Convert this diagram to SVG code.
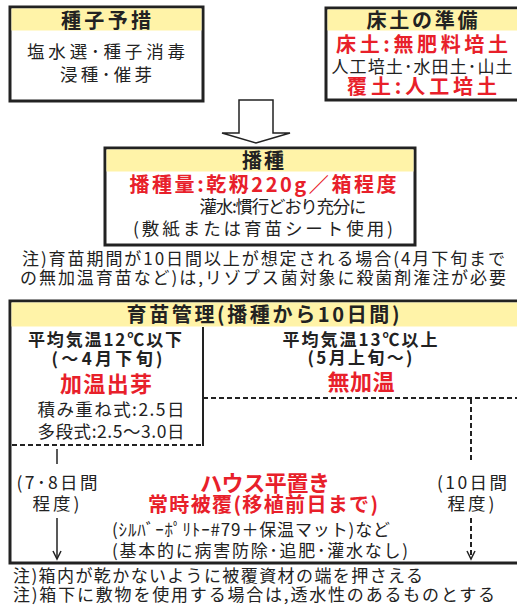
<svg xmlns="http://www.w3.org/2000/svg" width="517" height="607" viewBox="0 0 517 607">
<style>
.t{font-family:"Noto Sans CJK JP","Noto Sans CJK SC",sans-serif;fill:#222}
.b{font-weight:bold}
.r{fill:#e8202a;font-weight:bold}
.box{fill:#fff;stroke:#222;stroke-width:3}
.hd{fill:#fff3a8}
.dash{stroke:#222;stroke-width:2;stroke-dasharray:5 3;fill:none}
.ln{stroke:#222;stroke-width:1.5;fill:none}
</style>
<rect width="517" height="607" fill="#fff"/>
<g id="seed-prep">
<rect class="box" x="10" y="7" width="193" height="94"/>
<rect class="hd" x="11.5" y="8.5" width="190" height="22"/>
<text class="t b" x="106" y="28" font-size="20" text-anchor="middle" textLength="90">種子予措</text>
<text class="t" x="106" y="58" font-size="17.5" text-anchor="middle" textLength="158">塩水選･種子消毒</text>
<text class="t" x="106" y="81" font-size="17.5" text-anchor="middle" textLength="92">浸種･催芽</text>
</g>
<g id="soil-prep">
<rect class="box" x="326" y="8" width="200" height="92"/>
<rect class="hd" x="327.5" y="9.5" width="197" height="21"/>
<text class="t b" x="422" y="28" font-size="20" text-anchor="middle" textLength="111">床土の準備</text>
<text class="t r" x="422" y="52" font-size="20" text-anchor="middle" textLength="172">床土:無肥料培土</text>
<text class="t" x="422" y="73" font-size="17" text-anchor="middle" textLength="181">人工培土･水田土･山土</text>
<text class="t r" x="422" y="94" font-size="20" text-anchor="middle" textLength="150">覆土:人工培土</text>
</g>
<g id="sowing">
<rect class="box" x="105" y="148" width="310" height="97"/>
<rect class="hd" x="106.5" y="149.5" width="307" height="22"/>
<text class="t b" x="263" y="168" font-size="20" text-anchor="middle" textLength="42">播種</text>
<text class="t r" x="263" y="192" font-size="20" text-anchor="middle" textLength="267">播種量:乾籾220g／箱程度</text>
<text class="t" x="283" y="213" font-size="17.5" text-anchor="middle" textLength="167">灌水:慣行どおり充分に</text>
<text class="t" x="263" y="235" font-size="17.5" text-anchor="middle" textLength="260">(敷紙または育苗シート使用)</text>
</g>
<g id="note1">
<text class="t" x="22" y="265" font-size="17" textLength="483">注)育苗期間が10日間以上が想定される場合(4月下旬まで</text>
<text class="t" x="20" y="284" font-size="17" textLength="486">の無加温育苗など)は,リゾプス菌対象に殺菌剤潅注が必要</text>
</g>
<g id="nursery">
<rect class="box" x="10" y="301" width="516" height="262"/>
<rect class="hd" x="11.5" y="302.5" width="513" height="24"/>
<text class="t b" x="263" y="322" font-size="20" text-anchor="middle" textLength="273">育苗管理(播種から10日間)</text>
<line x1="203" y1="327" x2="203" y2="446" stroke="#222" stroke-width="2"/>
<line class="dash" x1="12" y1="445" x2="203" y2="445"/>
<line class="dash" x1="203" y1="398" x2="517" y2="398"/>
</g>
<g id="connectors">
<path d="M239,100 L273,100 L273,133 L290,133 L256,143 L222,133 L239,133 Z" fill="#fff" stroke="#222" stroke-width="1.5"/>
<line class="ln" x1="57" y1="449" x2="57" y2="464"/>
<line class="ln" x1="57" y1="518" x2="57" y2="558"/>
<path class="ln" d="M53,551 L57,559 L61,551"/>
<line class="dash" x1="471" y1="399" x2="471" y2="462"/>
<line class="dash" x1="471" y1="518" x2="471" y2="555"/>
<path class="ln" d="M467,551 L471,559 L475,551"/>
</g>
<g id="heated">
<text class="t b" x="105" y="346" font-size="17" text-anchor="middle" textLength="154">平均気温12℃以下</text>
<text class="t b" x="107" y="365" font-size="17" text-anchor="middle" textLength="111">(～4月下旬)</text>
<text class="t r" x="106" y="392" font-size="22" text-anchor="middle" textLength="92">加温出芽</text>
<text class="t" x="111" y="416" font-size="17.5" text-anchor="middle" textLength="147">積み重ね式:2.5日</text>
<text class="t" x="111" y="438" font-size="17.5" text-anchor="middle" textLength="147">多段式:2.5～3.0日</text>
</g>
<g id="unheated">
<text class="t b" x="360" y="346" font-size="17" text-anchor="middle" textLength="155">平均気温13℃以上</text>
<text class="t b" x="360" y="364" font-size="17" text-anchor="middle" textLength="105">(5月上旬～)</text>
<text class="t r" x="361" y="390" font-size="22" text-anchor="middle" textLength="67">無加温</text>
</g>
<g id="left-period">
<text class="t" x="57" y="489" font-size="17.5" text-anchor="middle" textLength="81">(7･8日間</text>
<text class="t" x="56" y="510" font-size="17.5" text-anchor="middle" textLength="47">程度)</text>
</g>
<g id="right-period">
<text class="t" x="472" y="489" font-size="17.5" text-anchor="middle" textLength="70">(10日間</text>
<text class="t" x="471" y="510" font-size="17.5" text-anchor="middle" textLength="47">程度)</text>
</g>
<g id="house">
<text class="t r" x="265" y="491" font-size="22" text-anchor="middle" textLength="130">ハウス平置き</text>
<text class="t r" x="263" y="512" font-size="20" text-anchor="middle" textLength="230">常時被覆(移植前日まで)</text>
<text class="t" x="112" y="536" font-size="17" textLength="278">(ｼﾙﾊﾞｰﾎﾟﾘﾄｰ#79＋保温マット)など</text>
<text class="t" x="112" y="557" font-size="17" textLength="296">(基本的に病害防除･追肥･灌水なし)</text>
</g>
<g id="note2">
<text class="t" x="13" y="582" font-size="17" textLength="410">注)箱内が乾かないように被覆資材の端を押さえる</text>
<text class="t" x="13" y="601" font-size="17" textLength="482">注)箱下に敷物を使用する場合は,透水性のあるものとする</text>
</g>
</svg>
